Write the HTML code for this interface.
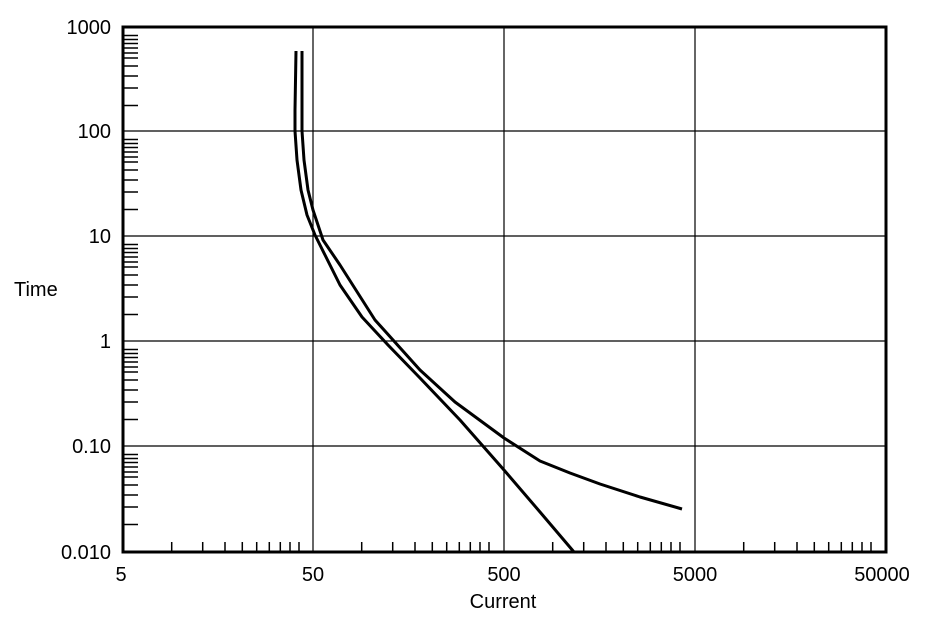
<!DOCTYPE html>
<html><head><style>body{margin:0;background:#fff}svg text{font-family:"Liberation Sans",Arial,sans-serif;font-size:20px;fill:#000}</style></head><body>
<svg width="930" height="629" xmlns="http://www.w3.org/2000/svg">
<g stroke="#000" stroke-width="1.2">
<line x1="313" y1="27" x2="313" y2="552"/><line x1="504" y1="27" x2="504" y2="552"/><line x1="695" y1="27" x2="695" y2="552"/>
<line x1="123" y1="131" x2="886" y2="131"/><line x1="123" y1="236" x2="886" y2="236"/><line x1="123" y1="341" x2="886" y2="341"/><line x1="123" y1="446" x2="886" y2="446"/>
</g>
<g id="yt" stroke="#000" stroke-width="1.5"></g>
<g id="xt" stroke="#000" stroke-width="1.5"></g>
<rect x="123" y="27" width="763" height="525" fill="none" stroke="#000" stroke-width="3"/>
<g fill="none" stroke="#000" stroke-width="3" stroke-linejoin="round">
<polyline points="296,51 295,110 295,131 297,160 301,190 307,215 315,235 325,255 340,285 362,317 388,345 420,378 460,420 504,470 540,512 574,552"/>
<polyline points="302,51 302,131 304,160 308,190 313,210 323,240 340,265 375,320 420,370 455,402 504,438 540,461 570,473 600,484 640,497 682,509"/>
</g>
<g text-anchor="end">
<text x="111" y="34">1000</text><text x="111" y="138">100</text><text x="111" y="243">10</text><text x="111" y="348">1</text><text x="111" y="453">0.10</text><text x="111" y="559">0.010</text>
</g>
<text x="14" y="296">Time</text>
<g text-anchor="middle">
<text x="121" y="581">5</text><text x="313" y="581">50</text><text x="504" y="581">500</text><text x="695" y="581">5000</text><text x="882" y="581">50000</text>
<text x="503" y="608">Current</text>
</g>
<script>
var ns="http://www.w3.org/2000/svg";
var yo=[8.5,12.5,16.5,21,26,31,39,49,61,78.5],yt=document.getElementById('yt');
[27,131,236,341,446].forEach(function(b){yo.forEach(function(o){var l=document.createElementNS(ns,'line');l.setAttribute('x1',123);l.setAttribute('x2',138);l.setAttribute('y1',b+o);l.setAttribute('y2',b+o);yt.appendChild(l);});});
var xo=[48.7,79.7,102,119.3,133.7,146.3,157.3,167,176],xt=document.getElementById('xt');
[123,313,504,695].forEach(function(b){xo.forEach(function(o){var l=document.createElementNS(ns,'line');l.setAttribute('y1',542);l.setAttribute('y2',552);l.setAttribute('x1',b+o);l.setAttribute('x2',b+o);xt.appendChild(l);});});
</script>
</svg>
</body></html>
